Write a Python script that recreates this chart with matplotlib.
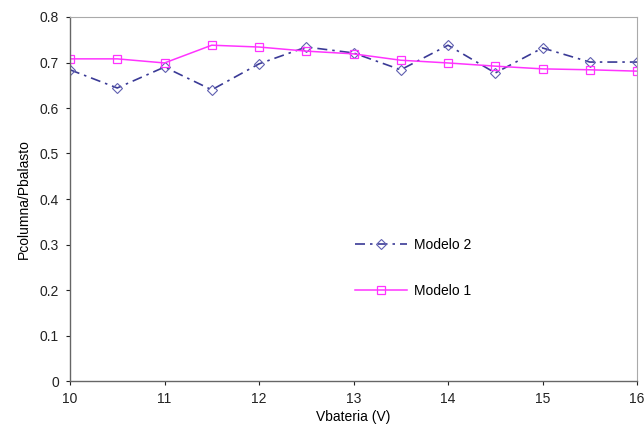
import matplotlib
matplotlib.use("Agg")
import matplotlib.pyplot as plt

plt.rcParams['font.family'] = ['Liberation Sans', 'DejaVu Sans']

vbat = [10, 10.5, 11, 11.5, 12, 12.5, 13, 13.5, 14, 14.5, 15, 15.5, 16]
modelo1 = [0.708, 0.708, 0.699, 0.738, 0.734, 0.725, 0.719, 0.705, 0.699, 0.692, 0.686, 0.684, 0.681]
modelo2 = [0.684, 0.644, 0.690, 0.640, 0.697, 0.734, 0.721, 0.684, 0.738, 0.677, 0.732, 0.701, 0.701]
xticks = [10, 11, 12, 13, 14, 15, 16]
yticks = [0, 0.1, 0.2, 0.3, 0.4, 0.5, 0.6, 0.7, 0.8]

fig = plt.figure(figsize=(6.44, 4.40), dpi=100)
ax = fig.add_axes([70/644, 59/440, 567/644, 364/440])

ax.plot(vbat, modelo2, color='#3a3a96', linestyle=(0, (6, 3, 1.5, 3)), linewidth=1.2,
        marker='D', markersize=5, markerfacecolor='none', markeredgecolor='#6060b0',
        markeredgewidth=0.8, label='Modelo 2')
ax.plot(vbat, modelo1, color='#ff33ff', linestyle='-', linewidth=1.1,
        marker='s', markersize=6, markerfacecolor='none', markeredgecolor='#ff33ff',
        markeredgewidth=0.9, label='Modelo 1')

ax.set_xlim(10, 16)
ax.set_ylim(0, 0.8)
ax.set_xticks(xticks)
ax.set_xticklabels([str(t) for t in xticks])
ax.set_yticks(yticks)
ax.set_yticklabels(['0' if t == 0 else f'{t:.1f}' for t in yticks])
ax.tick_params(labelsize=10, length=3, width=0.8, colors='#222222', direction='out')
ax.tick_params(axis='both', pad=5)
for s in ['left', 'bottom']:
    ax.spines[s].set_color('#666666')
    ax.spines[s].set_linewidth(1.0)
for s in ['top', 'right']:
    ax.spines[s].set_color('#aaaaaa')
    ax.spines[s].set_linewidth(0.8)

ax.set_xlabel('Vbateria (V)', fontsize=10, labelpad=3)
ax.set_ylabel('Pcolumna/Pbalasto', fontsize=10, labelpad=6)

ax.legend(loc='upper left', bbox_to_anchor=(0.48, 0.428), frameon=False, fontsize=10,
          handlelength=3.8, labelspacing=2.35, handletextpad=0.5)

fig.savefig('out.png', dpi=100)
